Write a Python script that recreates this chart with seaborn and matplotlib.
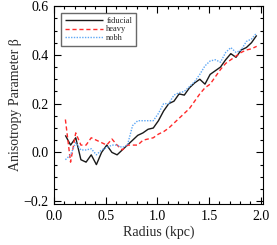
import matplotlib
matplotlib.use("Agg")
import matplotlib.pyplot as plt
from matplotlib.ticker import MultipleLocator
import seaborn as sns
import pandas as pd

# radius grid (kpc) and anisotropy profiles
radius = [0.11, 0.16, 0.21, 0.26, 0.31, 0.36, 0.41, 0.46, 0.51, 0.56,
          0.61, 0.66, 0.71, 0.76, 0.81, 0.86, 0.91, 0.96, 1.01, 1.06,
          1.11, 1.16, 1.21, 1.26, 1.31, 1.36, 1.41, 1.46, 1.51, 1.56,
          1.61, 1.66, 1.71, 1.76, 1.81, 1.86, 1.91, 1.96]
beta_fiducial = [0.07, 0.03, 0.06, -0.03, -0.04, -0.01, -0.05, 0.0, 0.03, 0.0,
                 -0.01, 0.01, 0.03, 0.05, 0.07, 0.08, 0.095, 0.10, 0.13, 0.17,
                 0.20, 0.21, 0.24, 0.235, 0.265, 0.285, 0.30, 0.28, 0.32, 0.335,
                 0.35, 0.38, 0.405, 0.39, 0.42, 0.43, 0.45, 0.48]
beta_heavy = [0.135, -0.04, 0.08, 0.03, 0.03, 0.06, 0.05, 0.04, 0.03, 0.055,
              0.03, 0.01, 0.03, 0.03, 0.03, 0.05, 0.055, 0.06, 0.075, 0.085,
              0.10, 0.12, 0.14, 0.16, 0.18, 0.21, 0.24, 0.265, 0.28, 0.31,
              0.34, 0.365, 0.38, 0.395, 0.41, 0.42, 0.425, 0.435]
beta_nobh = [-0.03, -0.01, 0.04, 0.01, 0.01, 0.015, -0.01, 0.01, 0.02, 0.03,
             0.03, 0.02, 0.03, 0.11, 0.13, 0.13, 0.13, 0.13, 0.16, 0.20,
             0.20, 0.235, 0.245, 0.25, 0.27, 0.29, 0.32, 0.355, 0.375, 0.38,
             0.37, 0.41, 0.43, 0.41, 0.42, 0.455, 0.465, 0.49]
models = ["fiducial", "heavy", "nobh"]

rows = []
for name, vals in zip(models, [beta_fiducial, beta_heavy, beta_nobh]):
    for r, b in zip(radius, vals):
        rows.append({"Radius (kpc)": r, "beta": b, "model": name})
df = pd.DataFrame(rows)

sns.set_style("ticks")
plt.rcParams["font.family"] = ["Liberation Serif", "DejaVu Serif"]

fig = plt.figure(figsize=(2.77, 2.45), dpi=100)
ax = fig.add_axes([0.195, 0.167, 0.754, 0.808])

palette = {"fiducial": "#1a1a1a", "heavy": "#ff2a2a", "nobh": "#5fa8f5"}
dashes = {"fiducial": (1, 0), "heavy": (3, 2), "nobh": (1, 1)}
sns.lineplot(data=df, x="Radius (kpc)", y="beta", hue="model", style="model",
             palette=palette, dashes=dashes, linewidth=1.0, ax=ax)

ax.set_xlim(0, 2.02)
ax.set_ylim(-0.212, 0.6)
ax.xaxis.set_major_locator(MultipleLocator(0.5))
ax.xaxis.set_minor_locator(MultipleLocator(0.1))
ax.yaxis.set_major_locator(MultipleLocator(0.2))
ax.yaxis.set_minor_locator(MultipleLocator(0.05))
ax.tick_params(which="both", direction="in", top=True, right=True,
               labelsize=10, colors="black", width=0.8)
ax.tick_params(which="major", length=5, pad=4)
ax.tick_params(which="minor", length=2.5)
for s in ax.spines.values():
    s.set_color("black")
    s.set_linewidth(0.8)

ax.set_xlabel("Radius (kpc)", fontsize=10, labelpad=2)
ax.set_ylabel("Anisotropy Parameter β", fontsize=10, labelpad=1)

leg = ax.legend(loc="upper left", fontsize=6, frameon=True, fancybox=False,
                handlelength=4.6, handletextpad=0.4, borderpad=0.4,
                labelspacing=0.1, bbox_to_anchor=(0.015, 0.985))
leg.get_frame().set_edgecolor("#444444")
leg.get_frame().set_linewidth(1.0)

fig.savefig("out.png", dpi=100)
